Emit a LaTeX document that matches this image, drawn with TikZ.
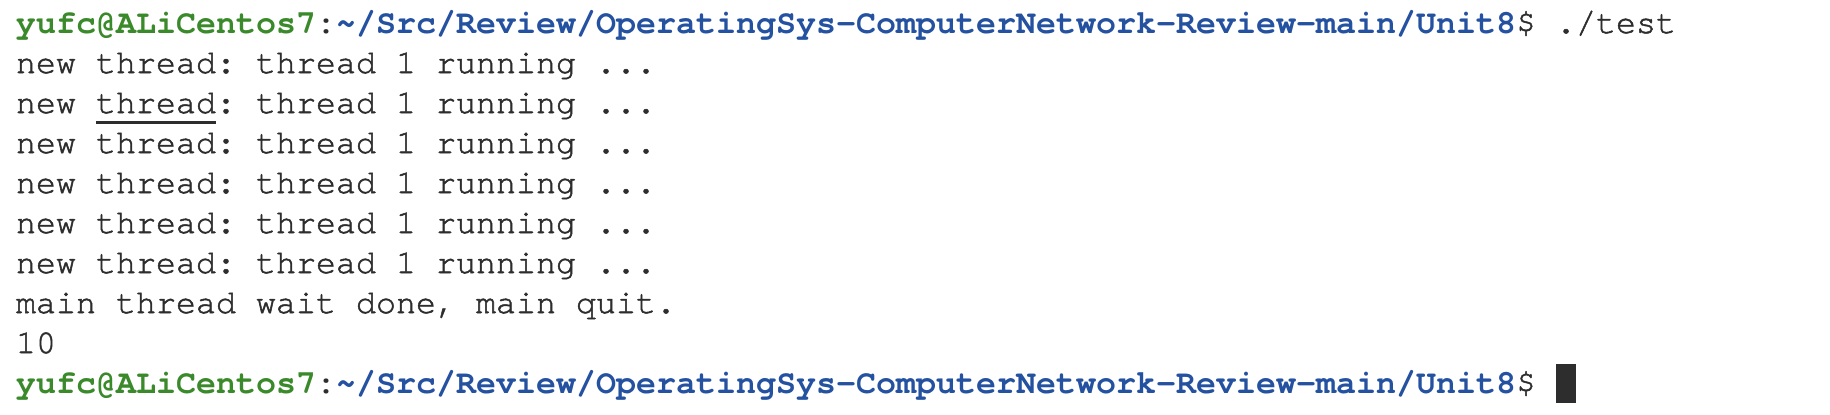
\documentclass[tikz,border=0pt]{standalone}
\usepackage{fontspec}
\setmonofont{texgyrecursor}[Extension=.otf, UprightFont=*-regular, BoldFont=*-bold,
  UprightFeatures={FakeBold=1.5}]
\definecolor{promptgreen}{RGB}{58,137,42}
\definecolor{pathblue}{RGB}{36,81,160}
\definecolor{termtext}{RGB}{45,45,45}
\newcommand{\termprompt}{{\bfseries\textcolor{promptgreen}{yufc@ALiCentos7}:\textcolor{pathblue}{\textasciitilde/Src/Review/OperatingSys-ComputerNetwork-Review-main/Unit8}}\$}
\tikzset{
  termline/.style={anchor=base west, inner sep=0pt, outer sep=0pt, text=termtext,
    font=\ttfamily\fontsize{16.667pt}{20pt}\selectfont},
  cursorbox/.style={fill=termtext, inner sep=0pt, outer sep=0pt, anchor=north west,
    minimum width=10pt, minimum height=19.5pt}
}
\begin{document}
\begin{tikzpicture}[x=0.5pt, y=-0.5pt]

\fill[white] (0,0) rectangle (1830,414);
\useasboundingbox (0,0) rectangle (1830,414);

\node[termline] (cmd) at (16,33) {\termprompt\ ./test};
\node[termline] (run1) at (16,73) {new thread: thread 1 running ...};
\node[termline] (run2) at (16,113) {new thread: thread 1 running ...};
\node[termline] (run3) at (16,153) {new thread: thread 1 running ...};
\node[termline] (run4) at (16,193) {new thread: thread 1 running ...};
\node[termline] (run5) at (16,233) {new thread: thread 1 running ...};
\node[termline] (run6) at (16,273) {new thread: thread 1 running ...};
\node[termline] (quit) at (16,313) {main thread wait done, main quit.};
\node[termline] (count) at (16,353) {10};
\node[termline] (prompt) at (16,393) {\termprompt};

\fill[termtext] (96,121) rectangle (216,123.5);
\node[cursorbox] (cursor) at (1556,364) {};

\end{tikzpicture}
\end{document}
